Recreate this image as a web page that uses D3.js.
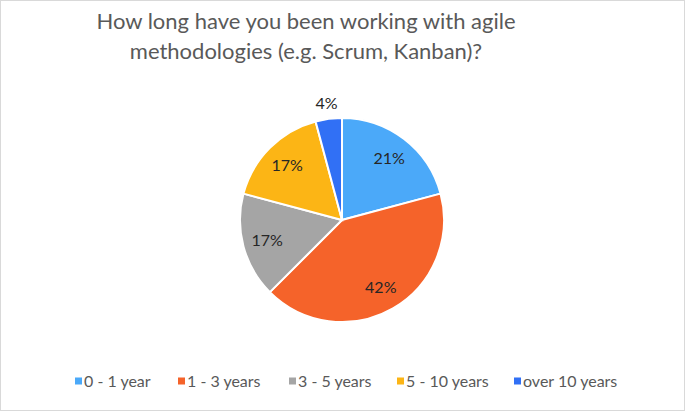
<!DOCTYPE html>
<html>
<head>
<meta charset="utf-8">
<script src="https://cdn.jsdelivr.net/npm/d3@7"></script>
<style>
  body { margin: 0; background: #fff; }
  text { font-family: Lato, "Open Sans", sans-serif; }
</style>
</head>
<body>
<div id="chart"></div>
<script>
// answers (respondent counts)
let categories = ["0 - 1 year", "1 - 3 years", "3 - 5 years", "5 - 10 years", "over 10 years"];
let counts = [5, 10, 4, 4, 1];
let colors = ["#4ba9f9", "#f5632a", "#a5a5a5", "#fcb515", "#3170f5"];
let titleLines = ["How long have you been working with agile", "methodologies (e.g. Scrum, Kanban)?"];

let width = 685;
let height = 411;
let cx = 342, cy = 220, radius = 102;

let svg = d3.select("#chart")
  .append("svg")
    .attr("width", width)
    .attr("height", height);

// chart border
svg.append("rect")
  .attr("x", 0.5).attr("y", 0.5)
  .attr("width", width - 1).attr("height", height - 1)
  .attr("fill", "#fff")
  .attr("stroke", "#d9d9d9");

// title
svg.append("g")
  .selectAll("text")
  .data(titleLines)
  .enter()
  .append("text")
    .attr("x", 306)
    .attr("y", (d, i) => 29 + i * 30)
    .attr("text-anchor", "middle")
    .attr("fill", "#595959")
    .style("font-size", "22px")
    .text(d => d);

let total = d3.sum(counts);
let pie = d3.pie().sort(null).value(d => d);
let arcs = pie(counts);
let arc = d3.arc().innerRadius(0).outerRadius(radius);
let labelArc = d3.arc().innerRadius(radius * 0.76).outerRadius(radius * 0.76);
let outerArc = d3.arc().innerRadius(radius + 16).outerRadius(radius + 16);

let g = svg.append("g").attr("transform", "translate(" + cx + "," + cy + ")");

g.selectAll("path")
  .data(arcs)
  .enter()
  .append("path")
    .attr("d", arc)
    .attr("fill", (d, i) => colors[i])
    .attr("stroke", "#fff")
    .attr("stroke-width", 2);

// data labels, small slices go outside
g.selectAll(".lbl")
  .data(arcs)
  .enter()
  .append("text")
    .attr("class", "lbl")
    .attr("transform", d => {
      let p = (d.value / total < 0.08) ? outerArc.centroid(d) : labelArc.centroid(d);
      return "translate(" + p + ")";
    })
    .attr("text-anchor", "middle")
    .attr("dy", "0.35em")
    .attr("fill", "#262626")
    .style("font-size", "16px")
    .text(d => Math.round(d.value / total * 100) + "%");

// legend
let legendX = [75, 178, 289, 397, 514];
let legend = svg.append("g")
  .selectAll("g")
  .data(categories)
  .enter()
  .append("g")
    .attr("transform", (d, i) => "translate(" + legendX[i] + ",381)");

legend.append("rect")
  .attr("x", 0).attr("y", -3.5)
  .attr("width", 7).attr("height", 7)
  .attr("fill", (d, i) => colors[i]);

legend.append("text")
  .attr("x", 9)
  .attr("dy", "0.35em")
  .attr("fill", "#595959")
  .style("font-size", "16px")
  .text(d => d);
</script>
</body>
</html>
